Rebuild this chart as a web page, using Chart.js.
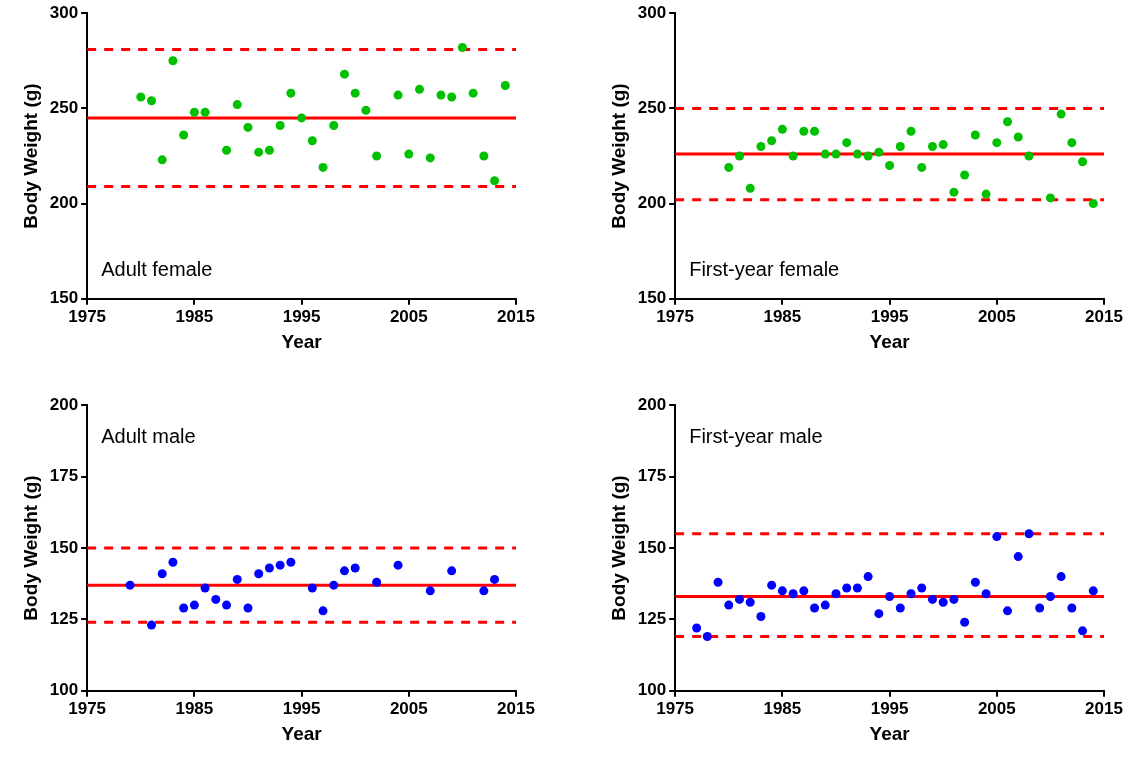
<!DOCTYPE html>
<html>
<head>
<meta charset="utf-8">
<script src="https://cdn.jsdelivr.net/npm/chart.js@4.4.1/dist/chart.umd.min.js"></script>
<style>
  body { margin: 0; background: #fff; }
  .panel { position: absolute; width: 564px; height: 358px; }
</style>
</head>
<body>
<div class="panel" style="left:0;top:0"><canvas id="c1"></canvas></div>
<div class="panel" style="left:588px;top:0"><canvas id="c2"></canvas></div>
<div class="panel" style="left:0;top:392px"><canvas id="c3"></canvas></div>
<div class="panel" style="left:588px;top:392px"><canvas id="c4"></canvas></div>
<script>
// Adult female
const afYears = [1980,1981,1982,1983,1984,1985,1986,1988,1989,1990,1991,1992,1993,1994,1995,1996,1997,1998,1999,2000,2001,2002,2004,2005,2006,2007,2008,2009,2010,2011,2012,2013,2014];
const afWeights = [256,254,223,275,236,248,248,228,252,240,227,228,241,258,245,233,219,241,268,258,249,225,257,226,260,224,257,256,282,258,225,212,262];
const afLimits = [245, 281, 209];

// First-year female
const ffYears = [1980,1981,1982,1983,1984,1985,1986,1987,1988,1989,1990,1991,1992,1993,1994,1995,1996,1997,1998,1999,2000,2001,2002,2003,2004,2005,2006,2007,2008,2010,2011,2012,2013,2014];
const ffWeights = [219,225,208,230,233,239,225,238,238,226,226,232,226,225,227,220,230,238,219,230,231,206,215,236,205,232,243,235,225,203,247,232,222,200];
const ffLimits = [226, 250, 202];

// Adult male
const amYears = [1979,1981,1982,1983,1984,1985,1986,1987,1988,1989,1990,1991,1992,1993,1994,1996,1997,1998,1999,2000,2002,2004,2007,2009,2012,2013];
const amWeights = [137,123,141,145,129,130,136,132,130,139,129,141,143,144,145,136,128,137,142,143,138,144,135,142,135,139];
const amLimits = [137, 150, 124];

// First-year male
const fmYears = [1977,1978,1979,1980,1981,1982,1983,1984,1985,1986,1987,1988,1989,1990,1991,1992,1993,1994,1995,1996,1997,1998,1999,2000,2001,2002,2003,2004,2005,2006,2007,2008,2009,2010,2011,2012,2013,2014];
const fmWeights = [122,119,138,130,132,131,126,137,135,134,135,129,130,134,136,136,140,127,133,129,134,136,132,131,132,124,138,134,154,128,147,155,129,133,140,129,121,135];
const fmLimits = [133, 155, 119];

const xRange = [1975, 2015];

const panelLabel = {
    id: 'panelLabel',
    afterDraw(chart, args, opts) {
        const { ctx, chartArea } = chart;
        ctx.save();
        ctx.font = "20px 'Liberation Sans', Arial, sans-serif";
        ctx.fillStyle = '#000';
        ctx.textBaseline = 'middle';
        const y = opts.top ? chartArea.top + 32 : chartArea.bottom - 28;
        ctx.fillText(opts.text, chartArea.left + 14, y);
        ctx.restore();
    }
};

function refLine(v, dashed) {
    return {
        type: 'line',
        data: xRange.map(x => ({ x: x, y: v })),
        borderColor: '#ff0000',
        borderWidth: 3,
        borderDash: dashed ? [9, 8] : [],
        pointRadius: 0,
        order: 2
    };
}

function makeChart(id, years, weights, limits, yMin, yMax, step, color, label, labelTop) {
    const tickFont = { family: "'Liberation Sans', Arial, sans-serif", size: 17, weight: 'bold' };
    const titleFont = { family: "'Liberation Sans', Arial, sans-serif", size: 19, weight: 'bold' };
    const grid = { display: true, drawOnChartArea: false, drawTicks: true, tickLength: 6, color: '#000', tickColor: '#000', tickWidth: 2, lineWidth: 2 };
    new Chart(document.getElementById(id), {
        type: 'scatter',
        data: {
            datasets: [{
                data: years.map((y, i) => ({ x: y, y: weights[i] })),
                backgroundColor: color,
                borderWidth: 0,
                pointRadius: 4.5,
                order: 1
            }, refLine(limits[0], false), refLine(limits[1], true), refLine(limits[2], true)]
        },
        options: {
            responsive: true,
            maintainAspectRatio: false,
            animation: false,
            layout: { padding: { top: 13, right: 48, left: 16, bottom: 0 } },
            plugins: {
                legend: { display: false },
                tooltip: { enabled: false },
                panelLabel: { text: label, top: labelTop }
            },
            scales: {
                x: {
                    type: 'linear', min: xRange[0], max: xRange[1],
                    border: { color: '#000', width: 2 },
                    grid: grid,
                    ticks: { stepSize: 10, color: '#000', font: tickFont, padding: 2, maxRotation: 0, callback: v => String(v) },
                    title: { display: true, text: 'Year', color: '#000', font: titleFont, padding: { top: 2 } }
                },
                y: {
                    min: yMin, max: yMax,
                    border: { color: '#000', width: 2 },
                    grid: grid,
                    ticks: { stepSize: step, color: '#000', font: tickFont, padding: 3 },
                    title: { display: true, text: 'Body Weight (g)', color: '#000', font: titleFont, padding: { bottom: 4 } }
                }
            }
        },
        plugins: [panelLabel]
    });
}

makeChart('c1', afYears, afWeights, afLimits, 150, 300, 50, '#00c000', 'Adult female', false);
makeChart('c2', ffYears, ffWeights, ffLimits, 150, 300, 50, '#00c000', 'First-year female', false);
makeChart('c3', amYears, amWeights, amLimits, 100, 200, 25, '#0000ff', 'Adult male', true);
makeChart('c4', fmYears, fmWeights, fmLimits, 100, 200, 25, '#0000ff', 'First-year male', true);
</script>
</body>
</html>
